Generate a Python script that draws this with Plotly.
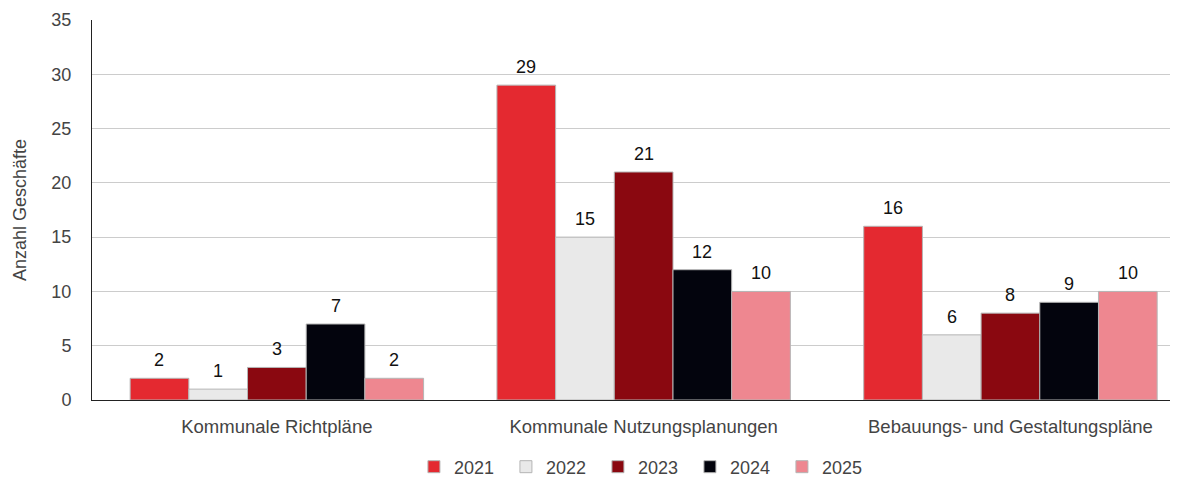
import plotly.graph_objects as go

categories = ["Kommunale Richtpläne", "Kommunale Nutzungsplanungen", "Bebauungs- und Gestaltungspläne"]
years = ["2021", "2022", "2023", "2024", "2025"]
values = {
    "2021": [2, 29, 16],
    "2022": [1, 15, 6],
    "2023": [3, 21, 8],
    "2024": [7, 12, 9],
    "2025": [2, 10, 10],
}
colors = {
    "2021": "#e42930",
    "2022": "#e9e9e9",
    "2023": "#8a0810",
    "2024": "#03040d",
    "2025": "#ee8790",
}

BARGAP = 0.2
n = len(years)
bw = (1 - BARGAP) / n

fig = go.Figure()
annotations = []
for i, y in enumerate(years):
    fig.add_trace(go.Bar(
        name=y, x=categories, y=values[y],
        marker=dict(color=colors[y], line=dict(color="#b5b5b5", width=1)),
    ))
    off = (i - (n - 1) / 2) * bw
    for j, v in enumerate(values[y]):
        annotations.append(dict(
            x=j + off, y=v, xref="x", yref="y", text=str(v), showarrow=False,
            yanchor="bottom", yshift=6, font=dict(size=18, color="#111111"),
        ))

fig.update_layout(
    width=1185, height=477,
    margin=dict(l=92, r=15, t=20, b=77, autoexpand=False),
    paper_bgcolor="white", plot_bgcolor="white",
    font=dict(family="Liberation Sans, Arial, sans-serif", size=18, color="#444444"),
    barmode="group", bargap=BARGAP, bargroupgap=0,
    showlegend=True,
    legend=dict(orientation="h", x=0.512, xanchor="center", yref="container", y=0.021, yanchor="middle",
                font=dict(size=18, color="#444444"), entrywidth=47, entrywidthmode="pixels"),
    annotations=annotations,
)
fig.update_xaxes(
    type="category", range=[-0.504, 2.435], automargin=False,
    showline=True, linecolor="#222222", linewidth=1,
    ticks="outside", ticklen=10, tickcolor="rgba(0,0,0,0)",
    tickfont=dict(size=18.5, color="#444444"),
)
fig.update_yaxes(
    range=[0, 35], dtick=5, automargin=False,
    showline=True, linecolor="#222222", linewidth=1,
    showgrid=True, gridcolor="#cccccc", gridwidth=1,
    zeroline=False,
    ticks="outside", ticklen=16, tickcolor="rgba(0,0,0,0)",
    tickfont=dict(size=18, color="#444444"),
    title=dict(text="Anzahl Geschäfte", font=dict(size=18, color="#444444"), standoff=20),
)

fig.write_html("out.html", config={"displayModeBar": False},
               post_script="document.body.style.margin='0';")
